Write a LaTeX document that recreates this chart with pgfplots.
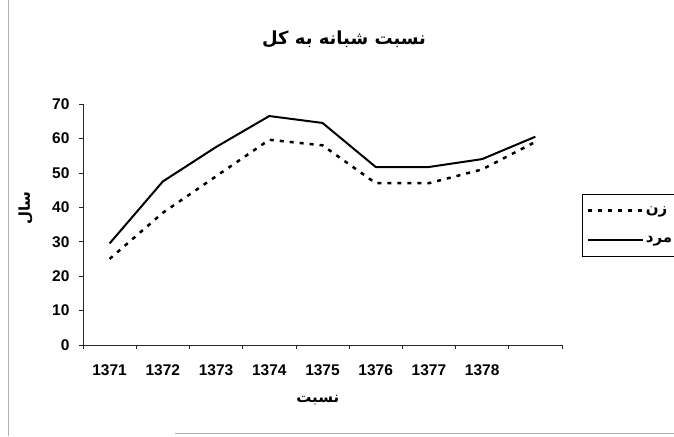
\documentclass[border=0pt]{standalone}
\usepackage{pgfplots}
\pgfplotsset{compat=1.18}
\usepackage{fontspec}
\setmainfont{Liberation Sans}
\newfontfamily\arabicfont[Script=Arabic]{DejaVu Sans}
\TeXXeTstate=1
\newcommand{\tickfont}{\fontsize{15.5}{18}\selectfont\bfseries}
\begin{document}
\begin{tikzpicture}
\draw[gray!60, line width=0.8pt] (8pt,0pt) -- (8pt,436pt);
\draw[gray!60, line width=0.8pt] (175pt,3pt) -- (674pt,3pt);
\begin{axis}[
  at={(83pt,91pt)}, anchor=south west,
  scale only axis, width=479pt, height=241pt,
  xmin=-0.5, xmax=8.5, ymin=0, ymax=70,
  axis lines=left, axis line style={-, line width=0.7pt, black!85},
  xtick={0,...,7}, xticklabels={1371,1372,1373,1374,1375,1376,1377,1378},
  major x tick style={draw=none},
  minor xtick={-0.5,0.5,...,8.5},
  ytick={0,10,...,70},
  tick align=outside, major tick length=4pt, minor tick length=4pt,
  tick style={black!85, line width=0.6pt},
  tick label style={font=\tickfont},
  /pgf/number format/assume math mode=true,
  xticklabel style={yshift=-12pt},
  yticklabel style={xshift=-6pt},
  title={\arabicfont\bfseries\fontsize{18}{22}\selectfont\beginR نسبت شبانه به کل\endR},
  title style={at={(axis description cs:0.545,1.245)}, anchor=center},
  xlabel={\arabicfont\bfseries\fontsize{15}{18}\selectfont\beginR نسبت\endR},
  xlabel style={at={(axis description cs:0.49,-0.228)}, anchor=center},
  ylabel={\arabicfont\bfseries\fontsize{15}{18}\selectfont\beginR سال\endR},
  ylabel style={at={(axis description cs:-0.12,0.568)}, anchor=center},
  legend style={at={(axis description cs:1.042,0.627)}, anchor=north west,
    draw=black, line width=0.6pt, font=\arabicfont\bfseries\fontsize{15}{18}\selectfont,
    row sep=18pt, inner xsep=4pt, inner ysep=10pt},
  legend cell align=left,
  legend image code/.code={\draw[#1] (0pt,0pt) -- (55pt,0pt);},
]
\addplot[black, line width=2.5pt, dash pattern=on 4pt off 6pt] coordinates {
  (0,25) (1,38.4) (2,49) (3,59.6) (4,58) (5,47) (6,47) (7,51) (8,59)};
\addlegendentry{\beginR زن\endR}
\addplot[black, line width=2pt] coordinates {
  (0,29.5) (1,47.5) (2,57.5) (3,66.5) (4,64.5) (5,51.7) (6,51.7) (7,54) (8,60.5)};
\addlegendentry{\beginR مرد\endR}
\end{axis}
\pgfresetboundingbox
\path[use as bounding box] (0pt,0pt) rectangle (674pt,436pt);
\end{tikzpicture}
\end{document}
